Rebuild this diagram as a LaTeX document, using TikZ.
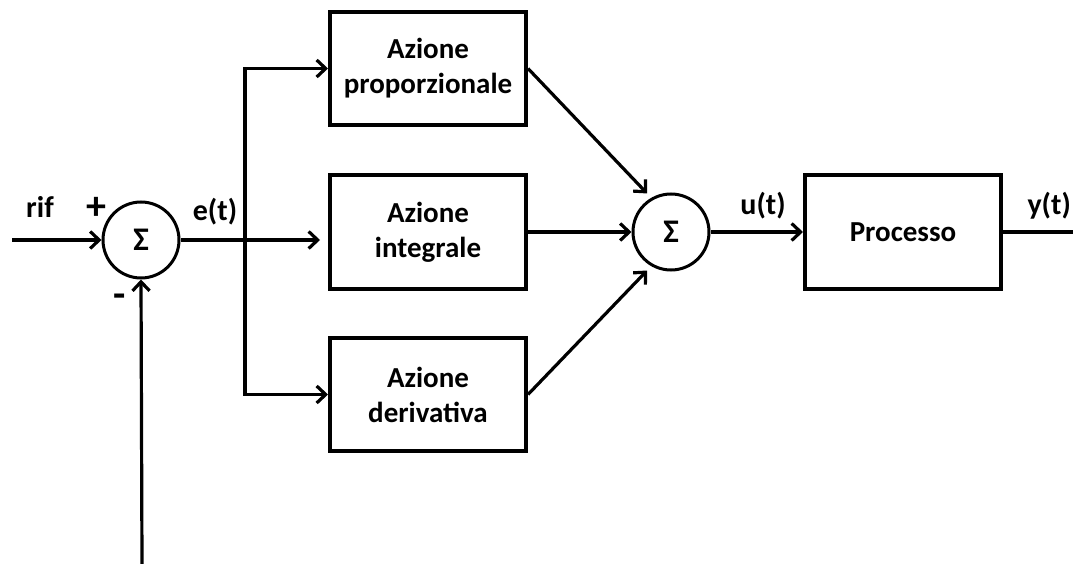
\documentclass[tikz,border=0pt]{standalone}
\usepackage{fontspec}
\setmainfont{Carlito}
\usetikzlibrary{arrows.meta}
\begin{document}
\begin{tikzpicture}[x=1pt,y=-1pt,
  blk/.style={draw, line width=4pt, minimum width=196pt, minimum height=113pt, align=center,
    font=\bfseries\fontsize{29}{35}\selectfont, inner sep=0pt},
  sumc/.style={draw, circle, line width=3pt, minimum size=76pt, inner sep=0pt,
    font=\bfseries\fontsize{33}{36}\selectfont},
  lbl/.style={font=\bfseries\fontsize{30}{34}\selectfont, inner sep=0pt},
  conn/.style={line width=3.2pt},
  arr/.style={conn, -{Straight Barb[length=9pt,width=17pt,line width=3.2pt]}}
]
\useasboundingbox (0,0) rectangle (1073,564);
\fill[white] (0,0) rectangle (1073,564);

% blocks
\node[sumc] (s1) at (141,240) {Σ};
\node[blk] (p) at (428,68.5) {Azione\\proporzionale};
\node[blk] (i) at (428,232) {Azione\\integrale};
\node[blk] (d) at (428,394.5) {Azione\\derivativa};
\node[sumc] (s2) at (671,232) {Σ};
\node[blk] (proc) at (903,232) {Processo};

% free ends
\coordinate (in) at (12,240);
\coordinate (br) at (245,240);
\coordinate (fb) at (142,564);
\coordinate (out) at (1073,232);

% connectors
\draw[arr] (in) -- (s1.west);
\draw[conn] (s1.east) -- (br);
\draw[arr] (br) |- (p.west);
\draw[arr, shorten >=8pt] (br) -- (i.west |- br);
\draw[arr] (br) |- (d.west);
\draw[arr, shorten >=6pt] (p.east) -- (s2.120);
\draw[arr] (i.east) -- (s2.west);
\draw[arr, shorten >=6pt] (d.east) -- (s2.240);
\draw[arr] (s2.east) -- (proc.west);
\draw[conn] (proc.east) -- (out);
\draw[arr] (fb) -- (s1.south);

% labels
\node[lbl] (rif) at (40,207) {rif};
\node[lbl, font=\bfseries\fontsize{40}{40}\selectfont] (plus) at (96,208) {+};
\node[lbl, font=\bfseries\fontsize{40}{40}\selectfont] (minus) at (120,301) {-};
\node[lbl] (e) at (215,212) {e(t)};
\node[lbl] (u) at (763,206) {u(t)};
\node[lbl, anchor=east] (y) at (1071,206) {y(t)};
\end{tikzpicture}
\end{document}
